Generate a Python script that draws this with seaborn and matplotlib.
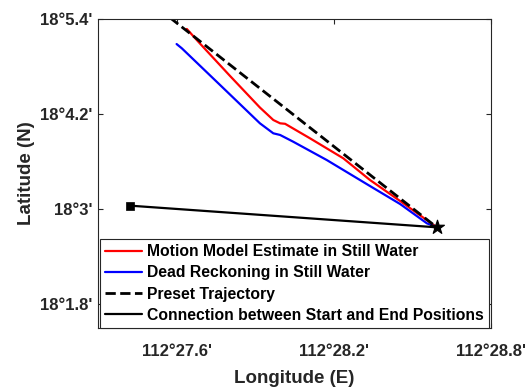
import matplotlib
matplotlib.use("Agg")
import matplotlib.pyplot as plt
import seaborn as sns

# Coordinates in arc-minutes past 112°E (longitude) and 18°N (latitude)
red_lon = [27.639, 27.689, 27.804, 27.918, 27.969, 27.995, 28.014, 28.109, 28.236, 28.338, 28.453, 28.593]
red_lat = [5.268, 5.085, 4.675, 4.277, 4.120, 4.078, 4.072, 3.889, 3.637, 3.363, 3.098, 2.766]

blue_lon = [27.600, 27.620, 27.766, 27.918, 27.969, 27.995, 28.045, 28.173, 28.338, 28.453, 28.555, 28.593]
blue_lat = [5.078, 5.024, 4.561, 4.078, 3.952, 3.931, 3.846, 3.615, 3.287, 3.060, 2.817, 2.766]

preset_lon = [27.575, 28.593]
preset_lat = [5.410, 2.766]

start_lon, start_lat = 27.424, 3.039
end_lon, end_lat = 28.593, 2.766

x_ticks = [27.6, 28.2, 28.8]
y_ticks = [1.8, 3.0, 4.2, 5.4]

labels = [
    "Motion Model Estimate in Still Water",
    "Dead Reckoning in Still Water",
    "Preset Trajectory",
    "Connection between Start and End Positions",
]

sns.set_theme(style="white")
plt.rcParams["font.family"] = ["Liberation Sans", "DejaVu Sans"]
plt.rcParams["font.weight"] = "bold"

fig = plt.figure(figsize=(5.28, 3.89), dpi=100)
ax = fig.add_axes([0.1856, 0.1576, 0.7444, 0.7948])

dark = "#262626"

sns.lineplot(x=red_lon, y=red_lat, sort=False, estimator=None, color="#ff0000",
             lw=1.6, ax=ax, label=labels[0])
sns.lineplot(x=blue_lon, y=blue_lat, sort=False, estimator=None, color="#0000ff",
             lw=1.6, ax=ax, label=labels[1])
sns.lineplot(x=preset_lon, y=preset_lat, sort=False, estimator=None, color="black",
             lw=2.0, ls="--", ax=ax, label=labels[2])
sns.lineplot(x=[start_lon, end_lon], y=[start_lat, end_lat], sort=False, estimator=None,
             color="black", lw=1.6, ax=ax, label=labels[3])
sns.scatterplot(x=[start_lon], y=[start_lat], marker="s", color="black", s=40,
                edgecolor="black", ax=ax, legend=False, zorder=5)
sns.scatterplot(x=[end_lon], y=[end_lat], marker="*", color="black", s=110,
                edgecolor="black", ax=ax, legend=False, zorder=5)

ax.set_xlim(27.3, 28.8)
ax.set_ylim(1.5, 5.4)
ax.set_xticks(x_ticks)
ax.set_xticklabels(["112\u00b0%.1f'" % m for m in x_ticks])
ax.set_yticks(y_ticks)
ax.set_yticklabels(["18\u00b0%g'" % m for m in y_ticks])

ax.tick_params(axis="both", direction="in", length=3.5, width=0.8, colors=dark,
               labelsize=12, top=True, right=True, bottom=True, left=True)
ax.tick_params(axis="x", pad=12)
ax.tick_params(axis="y", pad=4)
for lab in ax.get_xticklabels() + ax.get_yticklabels():
    lab.set_color(dark)
for s in ax.spines.values():
    s.set_visible(True)
    s.set_color(dark)
    s.set_linewidth(0.8)

ax.set_xlabel("Longitude (E)", fontsize=13.5, fontweight="bold", color=dark, labelpad=7.5)
ax.set_ylabel("Latitude (N)", fontsize=13.5, fontweight="bold", color=dark, labelpad=4)

leg = ax.legend(loc="lower left", bbox_to_anchor=(0.005, 0.0), borderaxespad=0.0,
                frameon=True, fancybox=False, edgecolor=dark, fontsize=11.3,
                handlelength=2.4, handletextpad=0.3, labelspacing=0.4,
                borderpad=0.3, framealpha=1)
leg.get_frame().set_linewidth(0.8)
for t in leg.get_texts():
    t.set_fontweight("bold")
    t.set_color("black")

fig.savefig("out.png", dpi=100)
